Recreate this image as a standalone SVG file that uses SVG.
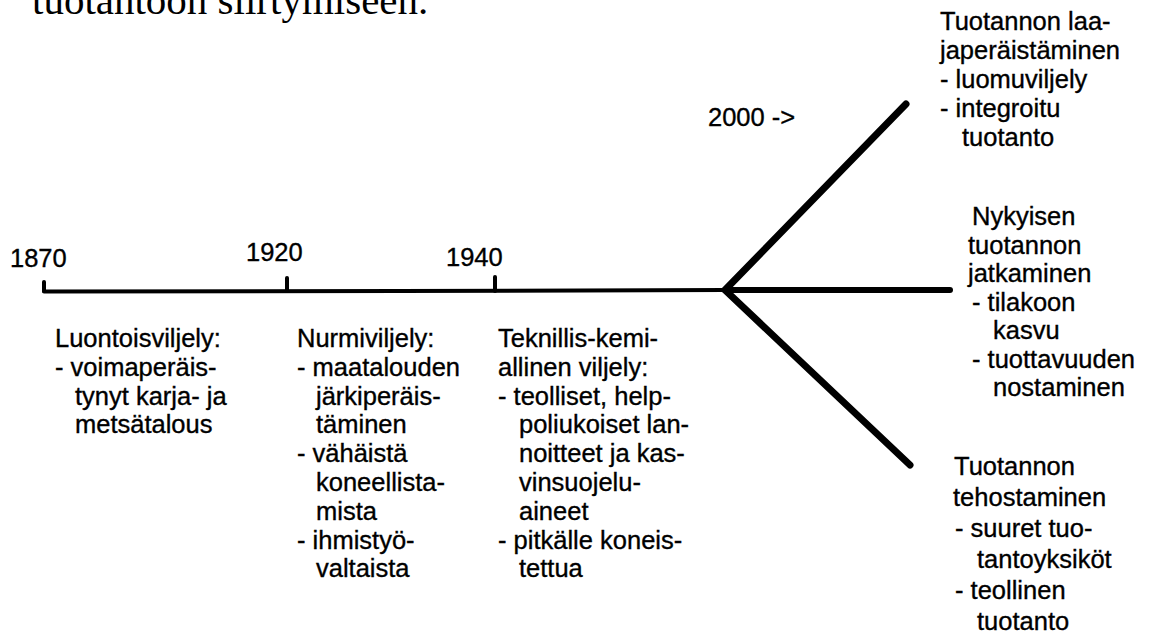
<svg xmlns="http://www.w3.org/2000/svg" width="1156" height="643" viewBox="0 0 1156 643">
<style>
.t{font-family:"Liberation Sans",Arial,Helvetica,sans-serif;font-size:25.5px;fill:#000;stroke:#000;stroke-width:0.35}
.title{font-family:"Liberation Serif","Times New Roman",serif;font-size:41px;fill:#000}
.ln{stroke:#000;fill:none;stroke-linecap:round;stroke-linejoin:round}
</style>
<rect width="1156" height="643" fill="#fff"/>
<text class="title" x="32" y="14">tuotantoon siirtymiseen.</text>
<g id="connectors">
<path class="ln" d="M44,291.5 L400,291 L725,290" stroke-width="4"/>
<path class="ln" d="M44,291 L44,282" stroke-width="4"/>
<path class="ln" d="M287,291 L287,278" stroke-width="4"/>
<path class="ln" d="M495,291 L495,277" stroke-width="4"/>
<path class="ln" d="M906,104 L725,290 L910,465" stroke-width="7"/>
<path class="ln" d="M725,290 L950,290" stroke-width="6"/>
</g>
<g id="year-1870"><text class="t" x="10" y="267">1870</text></g>
<g id="year-1920"><text class="t" x="246" y="261">1920</text></g>
<g id="year-1940"><text class="t" x="446" y="266">1940</text></g>
<g id="year-2000"><text class="t" x="708" y="126">2000 -&gt;</text></g>
<g id="luontoisviljely">
<text class="t" x="55" y="347">Luontoisviljely:</text>
<text class="t" x="55" y="375.8">- voimaperäis-</text>
<text class="t" x="75" y="404.6">tynyt karja- ja</text>
<text class="t" x="75" y="433.4">metsätalous</text>
</g>
<g id="nurmiviljely">
<text class="t" x="297" y="347">Nurmiviljely:</text>
<text class="t" x="297" y="375.8">- maatalouden</text>
<text class="t" x="316" y="404.6">järkiperäis-</text>
<text class="t" x="316" y="433.4">täminen</text>
<text class="t" x="297" y="462.2">- vähäistä</text>
<text class="t" x="316" y="491">koneellista-</text>
<text class="t" x="316" y="519.8">mista</text>
<text class="t" x="297" y="548.6">- ihmistyö-</text>
<text class="t" x="316" y="577.4">valtaista</text>
</g>
<g id="teknillis">
<text class="t" x="498" y="347">Teknillis-kemi-</text>
<text class="t" x="498" y="375.8">allinen viljely:</text>
<text class="t" x="498" y="404.6">- teolliset, help-</text>
<text class="t" x="519" y="433.4">poliukoiset lan-</text>
<text class="t" x="519" y="462.2">noitteet ja kas-</text>
<text class="t" x="519" y="491">vinsuojelu-</text>
<text class="t" x="519" y="519.8">aineet</text>
<text class="t" x="498" y="548.6">- pitkälle koneis-</text>
<text class="t" x="519" y="577.4">tettua</text>
</g>
<g id="laajaperaistaminen">
<text class="t" x="940" y="30">Tuotannon laa-</text>
<text class="t" x="940" y="59">japeräistäminen</text>
<text class="t" x="940" y="88">- luomuviljely</text>
<text class="t" x="940" y="117">- integroitu</text>
<text class="t" x="962" y="146">tuotanto</text>
</g>
<g id="nykyisen">
<text class="t" x="972" y="225">Nykyisen</text>
<text class="t" x="968" y="253.5">tuotannon</text>
<text class="t" x="968" y="282">jatkaminen</text>
<text class="t" x="972" y="310.5">- tilakoon</text>
<text class="t" x="993" y="339">kasvu</text>
<text class="t" x="972" y="367.5">- tuottavuuden</text>
<text class="t" x="993" y="396">nostaminen</text>
</g>
<g id="tehostaminen">
<text class="t" x="954" y="475">Tuotannon</text>
<text class="t" x="953" y="506">tehostaminen</text>
<text class="t" x="955" y="537">- suuret tuo-</text>
<text class="t" x="977" y="568">tantoyksiköt</text>
<text class="t" x="955" y="599">- teollinen</text>
<text class="t" x="977" y="630">tuotanto</text>
</g>
</svg>
